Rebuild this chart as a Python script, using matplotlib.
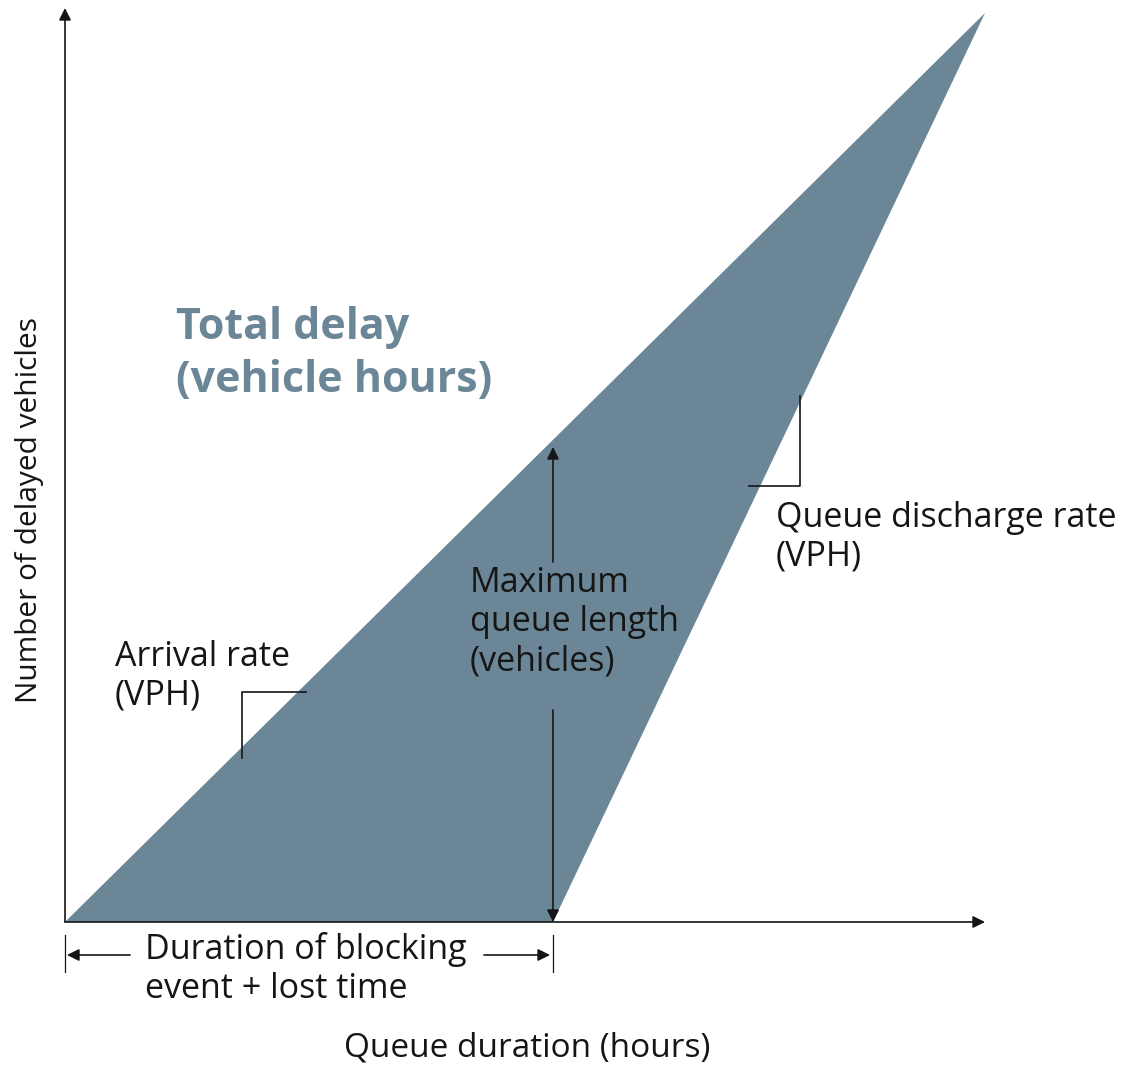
import matplotlib.pyplot as plt
from matplotlib.patches import Polygon

# cumulative-vehicle diagram, arbitrary units (x: time, y: vehicles)
shape_t = [0.0, 9.20, 4.88]   # start, queue cleared (apex), end of blocking
shape_n = [0.0, 9.09, 0.0]
block_end = 4.88
max_queue = 4.82
x_axis_end = 9.20
y_axis_end = 9.14

fill_col = "#6b8797"
ink = "#151515"
fam = ["Open Sans", "DejaVu Sans"]

fig = plt.figure(figsize=(11.25, 10.65), dpi=100)
ax = fig.add_axes([0, 0, 1, 1])
ax.set_xlim(-0.65, 10.60)
ax.set_ylim(-1.43, 9.22)
ax.axis("off")

ax.add_patch(Polygon(list(zip(shape_t, shape_n)), closed=True, facecolor=fill_col, edgecolor="none"))

arrow = dict(arrowstyle="-|>", color=ink, lw=1.2, mutation_scale=18, shrinkA=0, shrinkB=0)

# axes
ax.annotate("", xy=(0, y_axis_end), xytext=(0, 0), arrowprops=arrow)
ax.annotate("", xy=(x_axis_end, 0), xytext=(0, 0), arrowprops=arrow)

# maximum queue length double arrow (split around the label)
ax.annotate("", xy=(block_end, max_queue - 0.07), xytext=(block_end, 3.60), arrowprops=arrow)
ax.annotate("", xy=(block_end, 0), xytext=(block_end, 2.12), arrowprops=arrow)

# rate brackets
ax.plot([1.77, 1.77, 2.41], [1.64, 2.30, 2.30], color=ink, lw=1.2)
ax.plot([6.84, 7.35, 7.35], [4.36, 4.36, 5.26], color=ink, lw=1.2)

# duration of blocking dimension
ax.plot([0, 0], [-0.13, -0.50], color=ink, lw=0.9)
ax.plot([block_end, block_end], [-0.13, -0.50], color=ink, lw=0.9)
ax.annotate("", xy=(0.02, -0.33), xytext=(0.65, -0.33), arrowprops=arrow)
ax.annotate("", xy=(block_end - 0.03, -0.33), xytext=(4.19, -0.33), arrowprops=arrow)

ax.text(0.80, -0.47, "Duration of blocking\nevent + lost time", fontsize=24.5, color=ink,
        family=fam, ha="left", va="center", linespacing=1.18)
ax.text(4.62, -1.26, "Queue duration (hours)", fontsize=24, color=ink,
        family=fam, ha="center", va="center")
ax.text(-0.35, 4.12, "Number of delayed vehicles", fontsize=21.5, color=ink,
        family=fam, ha="center", va="center", rotation=90)

ax.text(1.11, 5.68, "Total delay\n(vehicle hours)", fontsize=31, color=fill_col,
        family=fam, fontweight="bold", ha="left", va="center", linespacing=1.3)
ax.text(0.50, 2.46, "Arrival rate\n(VPH)", fontsize=24.5, color=ink,
        family=fam, ha="left", va="center", linespacing=1.18)
ax.text(4.05, 3.00, "Maximum\nqueue length\n(vehicles)", fontsize=24.5, color=ink,
        family=fam, ha="left", va="center", linespacing=1.2)
ax.text(7.11, 3.85, "Queue discharge rate\n(VPH)", fontsize=24.5, color=ink,
        family=fam, ha="left", va="center", linespacing=1.18)

fig.savefig("out.png", dpi=100, facecolor="white")
